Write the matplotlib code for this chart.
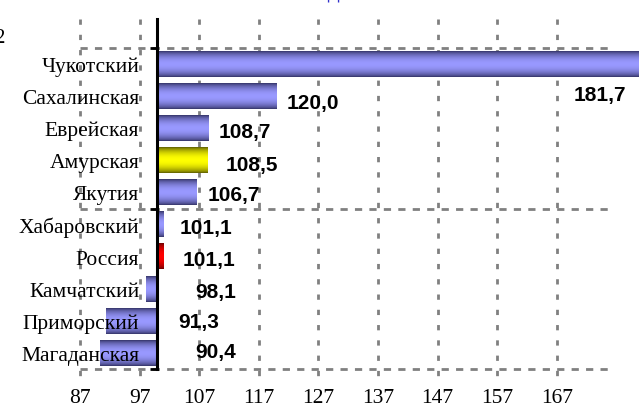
import numpy as np
import matplotlib
matplotlib.use('Agg')
import matplotlib.pyplot as plt

# data (index, base = 100)
regions = ['Чукотский', 'Сахалинская', 'Еврейская', 'Амурская', 'Якутия',
           'Хабаровский', 'Россия', 'Камчатский', 'Приморский', 'Магаданская']
values = [181.7, 120.0, 108.7, 108.5, 106.7, 101.1, 101.1, 98.1, 91.3, 90.4]
labels = ['181,7', '120,0', '108,7', '108,5', '106,7', '101,1', '101,1', '98,1', '91,3', '90,4']
bar_kind = ['blue', 'blue', 'blue', 'yellow', 'blue', 'blue', 'red', 'blue', 'blue', 'blue']
x_ticks = [87, 97, 107, 117, 127, 137, 147, 157, 167]
base = 100

# label offsets in pixels (left edge, downward) - excel placed them by hand
label_dx = [-71, 10, 9, 17, 10, 16, 19, 38, 21, 38]
label_dy = [30, 6, 3, 4, 2, 3, 3, 3, 1, -1]

# (edge colour, centre colour) for the "cylinder" shading
shades = {'blue': ('#333366', '#9999ff'),
          'yellow': ('#5c5c00', '#ffff00'),
          'red': ('#6a0000', '#ff0000')}


def shade(kind, n=64):
    dark = np.array(matplotlib.colors.to_rgb(shades[kind][0]))
    light = np.array(matplotlib.colors.to_rgb(shades[kind][1]))
    t = np.linspace(0, 1, n)
    w = np.sin(np.pi * t) ** 0.7
    col = dark[None, :] * (1 - w[:, None]) + light[None, :] * w[:, None]
    return col[:, None, :]


fig = plt.figure(figsize=(6.39, 4.10), dpi=100)
ax = fig.add_axes([80 / 639, 1 - 370 / 410, 528 / 639, 321 / 410])
ax.set_axisbelow(False)   # category names go over the bars

bar_h = 0.8
for i, v in enumerate(values):
    x0, x1 = min(base, v), max(base, v)
    ax.imshow(shade(bar_kind[i]), extent=[x0, x1, i + bar_h / 2, i - bar_h / 2],
              aspect='auto', interpolation='bilinear', clip_on=False, zorder=2)
    ax.annotate(labels[i], xy=(max(base, v), i), xytext=(label_dx[i], -label_dy[i]),
                textcoords='offset pixels', ha='left', va='center',
                fontsize=15, fontweight='bold', family='Liberation Sans',
                annotation_clip=False, zorder=5)

ax.set_xlim(87, 175.6)
ax.set_ylim(9.5, -0.5)

# dashed grid, vertical lines stick out above and below like in the original
ax.vlines(x_ticks, -1.41, 9.78, colors='#808080', linewidth=2,
          linestyles=(0, (1.9, 3.6)), clip_on=False, zorder=1)
ax.hlines([-0.5, 4.5, 9.5], 87, 175.6, colors='#808080', linewidth=2,
          linestyles=(0, (2.6, 2.6)), clip_on=False, zorder=1)

ax.set_yticks([-0.5, 4.5, 9.5])
ax.set_yticklabels([])
ax.set_yticks(range(len(regions)), minor=True)
ax.set_yticklabels(regions, minor=True)
ax.set_xticks(x_ticks)
ax.set_xticklabels([str(t) for t in x_ticks])

ax.tick_params(axis='y', which='major', length=5, width=2, color='black', direction='out')
ax.tick_params(axis='y', which='minor', length=0, pad=13, labelsize=15.5,
               labelfontfamily='Liberation Serif')
ax.tick_params(axis='x', length=0, pad=14, labelsize=15.5, labelfontfamily='Liberation Serif')

for s in ['top', 'right', 'bottom']:
    ax.spines[s].set_visible(False)
ax.spines['left'].set_position(('data', base))
ax.spines['left'].set_bounds(-1.41, 9.5)
ax.spines['left'].set_linewidth(2.2)
ax.spines['left'].set_zorder(4)
ax.patch.set_visible(False)

# title and axis caption are cut off at the edge of the original picture
fig.text(0.47, 1 - 3 / 410, '2013 года', color='#3333cc', fontsize=14,
         ha='center', va='bottom')
fig.text(-0.009, 0.905, '2', fontsize=15, family='Liberation Serif', ha='left', va='center')

plt.savefig('out.png', dpi=100)
